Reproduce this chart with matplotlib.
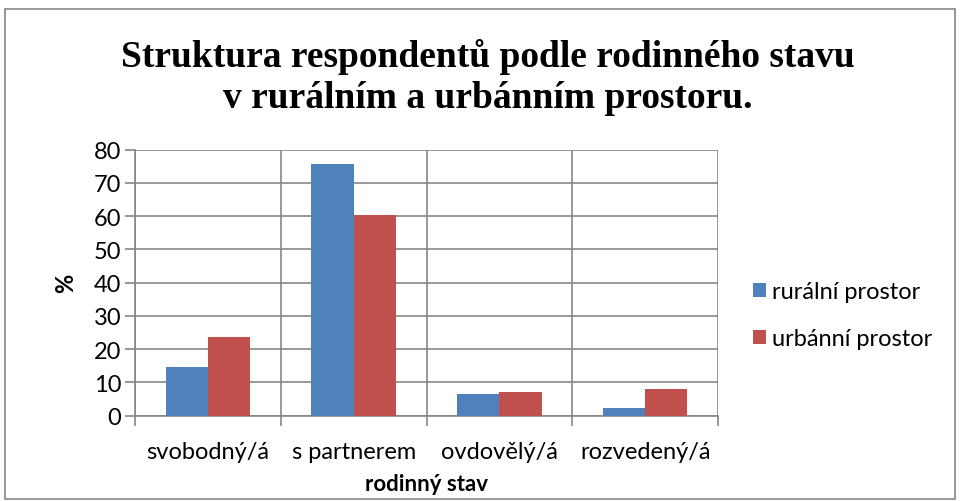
import numpy as np
import matplotlib.pyplot as plt
from matplotlib.patches import Rectangle

# data
kategorie = ['svobodný/á', 's partnerem', 'ovdovělý/á', 'rozvedený/á']
ruralni = [14.5, 75.8, 6.4, 2.2]
urbanni = [23.8, 60.5, 7.1, 8.1]
serie_nazvy = ['rurální prostor', 'urbánní prostor']
barvy = ['#4F81BD', '#C0504D']

W, H = 960, 502
fig = plt.figure(figsize=(W / 100, H / 100), dpi=100)
fig.patch.set_facecolor('white')

# outer frame of the chart
fig.patches.append(Rectangle((5 / W, 2 / H), 950 / W, (H - 12) / H, transform=fig.transFigure,
                             fill=False, edgecolor='#868686', linewidth=1.2))

# plot area in pixels
left, right, top, bottom = 135, 718, 150.7, 416.7
ax = fig.add_axes([left / W, 1 - bottom / H, (right - left) / W, (bottom - top) / H])

x = np.arange(len(kategorie))
sirka = 0.29
ax.bar(x - sirka / 2, ruralni, sirka, color=barvy[0], label=serie_nazvy[0], zorder=3)
ax.bar(x + sirka / 2, urbanni, sirka, color=barvy[1], label=serie_nazvy[1], zorder=3)

ax.set_xlim(-0.5, len(kategorie) - 0.5)
ax.set_ylim(0, 80)
ax.set_yticks(range(0, 81, 10))
ax.set_xticks(x)
ax.set_xticklabels(kategorie)
ax.set_xticks(np.arange(-0.5, len(kategorie), 1), minor=True)

font = ['Lato', 'DejaVu Sans']
ax.tick_params(axis='x', which='major', length=0, pad=18, labelsize=17)
ax.tick_params(axis='x', which='minor', length=7, color='#868686', width=1.2)
ax.tick_params(axis='y', length=7, color='#868686', width=1.2, labelsize=17, pad=3)
for lab in ax.get_xticklabels() + ax.get_yticklabels():
    lab.set_family(font)

ax.grid(True, axis='y', color='#868686', linewidth=1.2, zorder=0)
ax.grid(True, axis='x', which='minor', color='#868686', linewidth=1.2, zorder=0)
for s in ['top', 'right']:
    ax.spines[s].set_visible(False)
ax.spines['left'].set_color('#868686')
ax.spines['bottom'].set_color('#868686')
ax.spines['left'].set_linewidth(1.2)
ax.spines['bottom'].set_linewidth(1.2)

ax.set_xlabel('rodinný stav', fontsize=16, fontweight='bold', family=font, labelpad=8)
ax.set_ylabel('%', fontsize=17, fontweight='bold', family=font, labelpad=12)

fig.text(488 / W, 1 - 57 / H, 'Struktura respondentů podle rodinného stavu',
         ha='center', va='center', fontsize=27, fontweight='bold', family='Liberation Serif')
fig.text(488 / W, 1 - 99 / H, 'v rurálním a urbánním prostoru.',
         ha='center', va='center', fontsize=27, fontweight='bold', family='Liberation Serif')

leg = ax.legend(loc='center left', bbox_to_anchor=(732 / W, 1 - 316 / H), bbox_transform=fig.transFigure,
                frameon=False, prop={'family': font, 'size': 17}, handlelength=0.55, handleheight=0.55,
                handletextpad=0.25, labelspacing=1.1)

fig.savefig('out.png', dpi=100)
